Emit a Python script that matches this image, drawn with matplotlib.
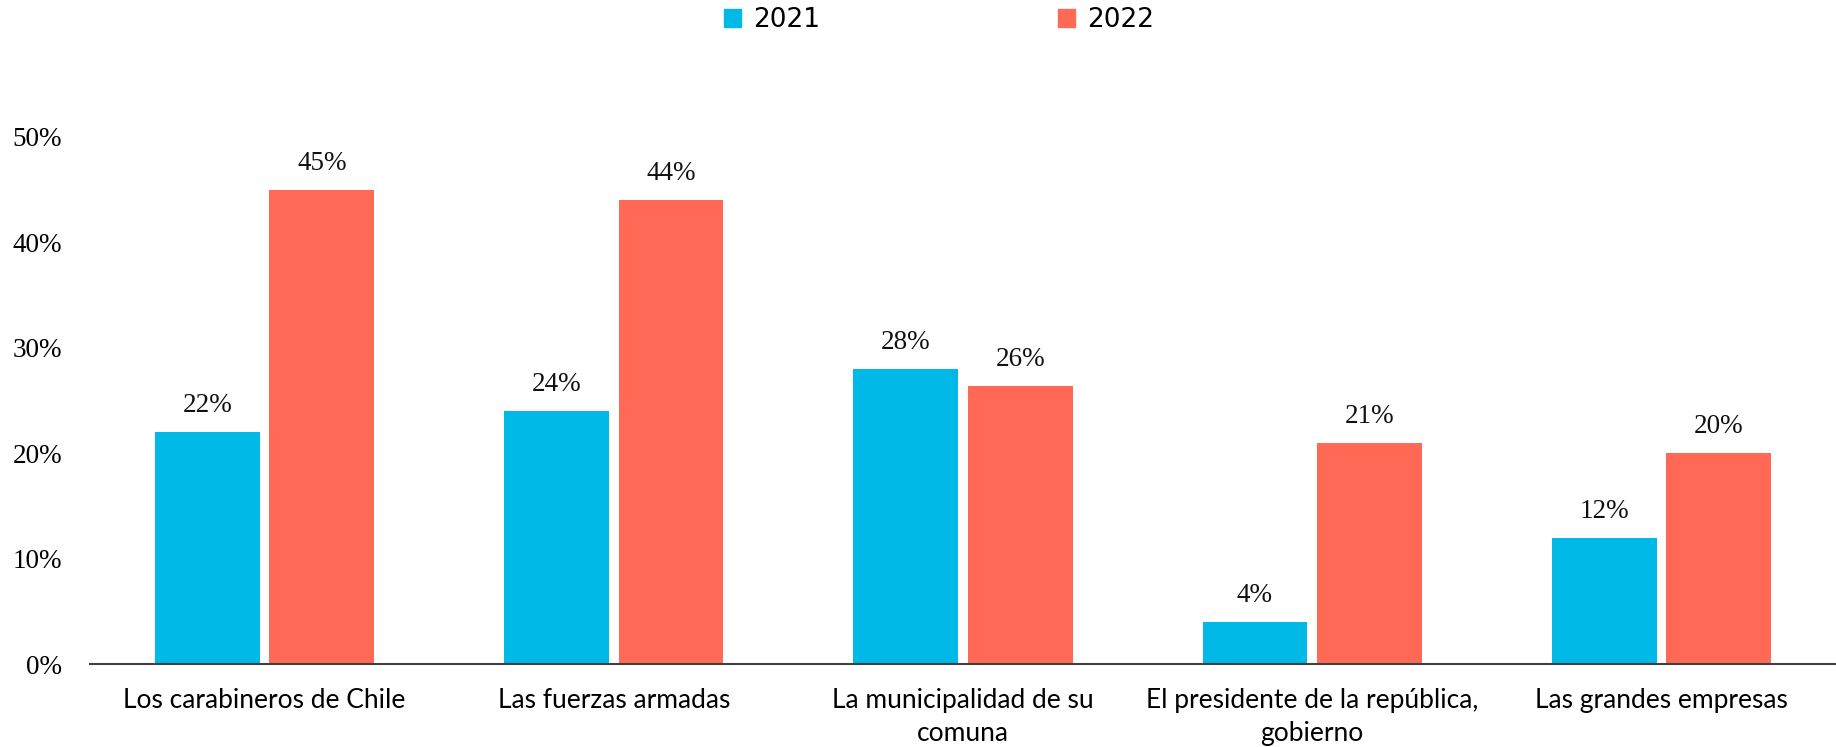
import matplotlib
matplotlib.use("Agg")
import matplotlib.pyplot as plt
import numpy as np
from matplotlib.patches import Patch

categories = ["Los carabineros de Chile", "Las fuerzas armadas",
              "La municipalidad de su\ncomuna", "El presidente de la república,\ngobierno",
              "Las grandes empresas"]
series_names = ["2021", "2022"]
values_2021 = [22, 24, 28, 4, 12]
values_2022 = [45, 44, 26.4, 21, 20]
yticks = [0, 10, 20, 30, 40, 50]
colors = ["#00B9E7", "#FF6955"]

fig = plt.figure(figsize=(18.36, 7.47), dpi=100)
ax = fig.add_axes([90/1836, 83/747, 1 - 90/1836, (664-137)/747])

x = np.arange(len(categories))
w = 0.3
off = 0.164
for vals, dx, c in [(values_2021, -off, colors[0]), (values_2022, off, colors[1])]:
    bars = ax.bar(x + dx, vals, width=w, color=c)
    for b, v in zip(bars, vals):
        ax.annotate(f"{v:.0f}%", (b.get_x() + b.get_width()/2, b.get_height()),
                    xytext=(0, 10), textcoords="offset points", ha="center", va="bottom",
                    fontsize=19.5, family="Liberation Serif", color="#111111")

ax.set_xlim(-0.5, 4.5)
ax.set_ylim(0, 50)
ax.set_yticks(yticks)
ax.set_yticklabels([f"{t}%" for t in yticks], family="Liberation Serif", fontsize=19.5)
ax.set_xticks(x)
ax.set_xticklabels(categories, family="Lato", fontsize=19, linespacing=1.4)
ax.tick_params(axis="both", length=0)
ax.tick_params(axis="y", pad=20)
ax.tick_params(axis="x", pad=17)
for s in ["top", "right", "left"]:
    ax.spines[s].set_visible(False)
ax.spines["bottom"].set_color("#404040")
ax.spines["bottom"].set_linewidth(1.5)

handles = [Patch(color=colors[0], label=series_names[0]), Patch(color=colors[1], label=series_names[1])]
fig.legend(handles=handles, loc="center", bbox_to_anchor=(939/1836, 1 - 20/747), ncol=2,
           frameon=False, prop={"family": "DejaVu Sans", "size": 19},
           handlelength=0.65, handleheight=0.65, handletextpad=0.45, columnspacing=9.0)

fig.savefig("out.png", dpi=100, facecolor="white")
